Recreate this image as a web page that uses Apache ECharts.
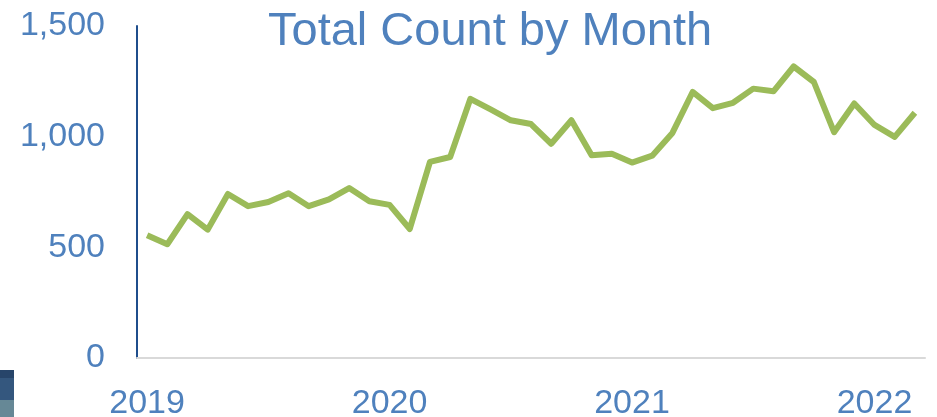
<!DOCTYPE html>
<html>
<head>
<meta charset="utf-8">
<script src="https://cdn.jsdelivr.net/npm/echarts@6/dist/echarts.min.js"></script>
<style>
  html, body { margin: 0; padding: 0; background: #fff; }
  #main { width: 937px; height: 417px; }
</style>
</head>
<body>
<div id="main"></div>
<script>
var months = [
  "2019-01","2019-02","2019-03","2019-04","2019-05","2019-06","2019-07","2019-08","2019-09","2019-10","2019-11","2019-12",
  "2020-01","2020-02","2020-03","2020-04","2020-05","2020-06","2020-07","2020-08","2020-09","2020-10","2020-11","2020-12",
  "2021-01","2021-02","2021-03","2021-04","2021-05","2021-06","2021-07","2021-08","2021-09","2021-10","2021-11","2021-12",
  "2022-01","2022-02","2022-03"
];
var totalCount = [
  555, 514, 650, 580, 741, 686, 705, 744, 686, 717, 768, 708,
  692, 583, 886, 908, 1171, 1123, 1074, 1057, 968, 1074, 916, 923,
  883, 914, 1017, 1202, 1129, 1153, 1217, 1205, 1317, 1247, 1020, 1150,
  1053, 999, 1108
];
var yTicks = [0, 500, 1000, 1500];

var blue = "#4f81bd";
var chartDom = document.getElementById("main");
var myChart = echarts.init(chartDom);
var option;

option = {
  animation: false,
  title: {
    text: "Total Count by Month",
    left: 263,
    top: 4,
    textStyle: { fontFamily: "Liberation Sans", fontSize: 47, fontWeight: "normal", color: blue }
  },
  grid: { left: 137, right: 12, top: 26, bottom: 59, outerBoundsMode: "none" },
  xAxis: {
    type: "category",
    data: months,
    boundaryGap: true,
    axisLine: { lineStyle: { color: "#d9d9d9", width: 2 } },
    axisTick: { show: false },
    axisLabel: {
      interval: function (i) { return i % 12 === 0; },
      formatter: function (v) { return v.slice(0, 4); },
      color: blue, fontFamily: "Liberation Sans", fontSize: 34, margin: 29
    }
  },
  yAxis: {
    type: "value",
    min: yTicks[0],
    max: yTicks[yTicks.length - 1],
    interval: 500,
    axisLine: { show: true, lineStyle: { color: "#1f4e8c", width: 2 } },
    axisTick: { show: false },
    splitLine: { show: false },
    axisLabel: { color: blue, fontFamily: "Liberation Sans", fontSize: 34, margin: 32 }
  },
  graphic: [
    { type: "rect", left: 0, top: 370, shape: { width: 14, height: 8 }, style: { fill: "#27456a" } },
    { type: "rect", left: 0, top: 378, shape: { width: 14, height: 22 }, style: { fill: "#34577e" } },
    { type: "rect", left: 0, top: 400, shape: { width: 14, height: 17 }, style: { fill: "#668896" } }
  ],
  series: [
    {
      type: "line",
      data: totalCount,
      symbol: "none",
      lineStyle: { color: "#9bbb59", width: 6, join: "round" }
    }
  ]
};
option && myChart.setOption(option);
</script>
</body>
</html>
